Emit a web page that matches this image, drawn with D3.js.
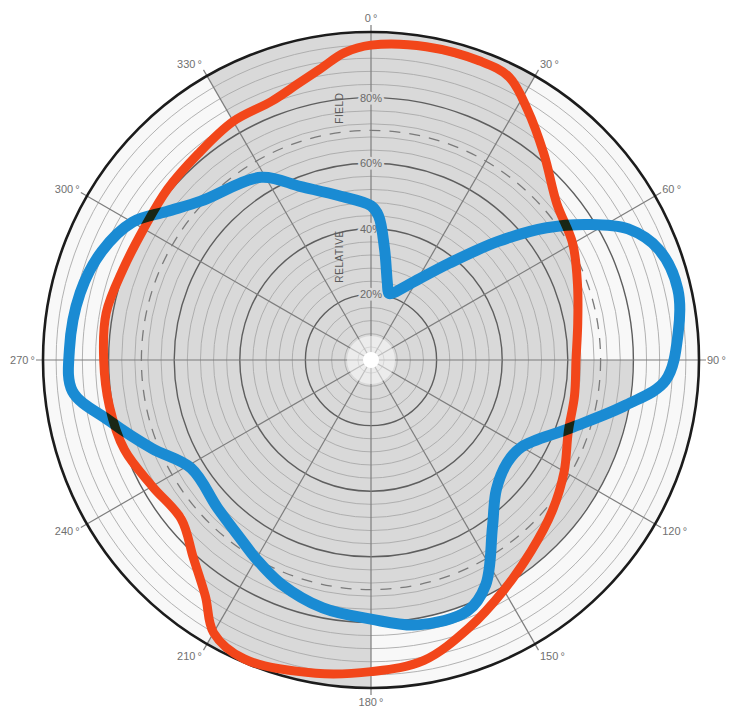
<!DOCTYPE html>
<html>
<head>
<meta charset="utf-8">
<script src="https://cdn.jsdelivr.net/npm/d3@7"></script>
<style>
  html, body { margin: 0; padding: 0; background: #fff; }
  svg { display: block; }
  .trace { fill: none; stroke-linejoin: round; stroke-linecap: round; }
</style>
</head>
<body>
<div id="chart"></div>
<script>
// Angle ticks (degrees, clockwise from top) and radial ticks (% relative field)
const angleTicks = [0, 30, 60, 90, 120, 150, 180, 210, 240, 270, 300, 330];
const percentLabels = [20, 40, 60, 80];
const gridSteps = d3.range(4, 101, 4);
const halfPower = 70;

// Blue pattern: angle (deg) / relative field (%)
const blueAngles = [0, 3, 7, 12, 15, 18, 27, 39, 47, 53, 58, 63, 69, 77, 85, 94, 100, 109, 120, 127, 136, 144, 153, 159, 170, 180, 191, 202, 210, 216, 226, 239, 248, 257, 264, 272, 283, 292, 300, 306, 313, 329, 338, 349];
const blueValues = [47, 44, 34, 24, 21, 21.5, 26, 38, 53, 67, 78, 88, 94, 96, 94, 90, 79, 64, 53, 52, 55, 63, 77, 82, 82, 79, 77, 73.5, 70, 67.5, 65, 64, 72, 82, 91.5, 92, 91, 88.5, 84, 77, 71, 65, 57, 51];

// Red pattern
const redAngles = [0, 10, 20, 26, 32, 40, 50, 60, 70, 80, 90, 100, 110, 120, 130, 140, 150, 160, 170, 180, 190, 203, 210, 215, 222, 230, 240, 250, 260, 270, 280, 290, 300, 310, 320, 330, 339, 345, 350, 355];
const redValues = [96, 97, 97, 96, 90, 82, 74, 71, 67, 64, 62.5, 63, 64, 68, 72, 76, 81, 87, 93, 95, 97, 99, 96, 88, 81, 75.5, 77, 80, 81, 81.5, 82, 80.5, 80, 81, 82, 84, 84.5, 87, 90, 94];

// Grey shaded reference area
const shadeAngles = [330, 340, 350, 360, 370, 380, 390, 390, 400, 410, 420, 430, 440, 450, 450, 460, 470, 480, 490, 500, 510, 520, 530, 540, 540, 550, 560, 570, 570, 575, 582, 590, 600, 610, 620, 630, 640, 650, 660, 670, 680, 690];
const shadeValues = [100, 100, 100, 100, 100, 100, 100, 91, 81, 73, 70, 66, 64, 63, 80, 80, 80, 80, 80, 80, 80, 80, 80, 80, 100, 100, 100, 100, 95, 87, 80, 74, 76, 79, 80, 80.5, 81, 79.5, 79, 80, 81, 83];

const width = 729, height = 713;
const cx = 371, cy = 360;
const outerR = 328;

const svg = d3.select('#chart').append('svg')
    .attr('width', width)
    .attr('height', height);

const g = svg.append('g').attr('transform', `translate(${cx},${cy})`);

const rScale = d3.scaleLinear().domain([0, 100]).range([0, outerR]);
const aScale = d3.scaleLinear().domain([0, 360]).range([0, 2 * Math.PI]);

// Plot face
g.append('circle')
    .attr('r', rScale(100))
    .attr('fill', '#f8f8f8');

// Shaded area
const shadeLine = d3.lineRadial()
    .angle(d => aScale(d[0]))
    .radius(d => rScale(d[1]))
    .curve(d3.curveLinearClosed);

g.append('path')
    .attr('d', shadeLine(shadeAngles.map((a, i) => [a, shadeValues[i]])))
    .attr('fill', '#d9d9d9');

// Grid circles
g.selectAll('circle.grid')
    .data(gridSteps.filter(d => d < 100))
    .enter()
    .append('circle')
    .attr('class', 'grid')
    .attr('r', d => rScale(d))
    .attr('fill', 'none')
    .attr('stroke', d => d % 20 === 0 ? '#5e5e5e' : '#a9a9a9')
    .attr('stroke-width', d => d % 20 === 0 ? 1.4 : 0.9);

// Half power circle (dashed)
g.append('circle')
    .attr('r', rScale(halfPower))
    .attr('fill', 'none')
    .attr('stroke', '#7a7a7a')
    .attr('stroke-width', 1.3)
    .attr('stroke-dasharray', '11,9');

// Spokes
g.selectAll('line.spoke')
    .data(angleTicks)
    .enter()
    .append('line')
    .attr('class', 'spoke')
    .attr('x1', 0)
    .attr('y1', 0)
    .attr('x2', d => Math.sin(aScale(d)) * (rScale(100) + 7))
    .attr('y2', d => -Math.cos(aScale(d)) * (rScale(100) + 7))
    .attr('stroke', '#7d7d7d')
    .attr('stroke-width', 1.2);

// Washed-out centre
g.append('circle').attr('r', 24).attr('fill', '#fff').attr('opacity', 0.5);
g.append('circle').attr('r', 8).attr('fill', '#fff');

// Outer ring
g.append('circle')
    .attr('r', rScale(100))
    .attr('fill', 'none')
    .attr('stroke', '#1c1c1c')
    .attr('stroke-width', 2.6);

// Angle labels
g.selectAll('text.angle')
    .data(angleTicks)
    .enter()
    .append('text')
    .attr('class', 'angle')
    .attr('x', d => {
        const s = Math.sin(aScale(d));
        return s * (rScale(100) + 6) + (Math.abs(s) < 0.01 ? 0 : (s > 0 ? 2 : -2));
    })
    .attr('y', d => -Math.cos(aScale(d)) * (rScale(100) + 2) - Math.cos(aScale(d)) * 12)
    .attr('dominant-baseline', 'central')
    .attr('text-anchor', d => {
        const s = Math.sin(aScale(d));
        if (Math.abs(s) < 0.01) return 'middle';
        return s > 0 ? 'start' : 'end';
    })
    .style('font-family', '"Liberation Sans", Arial, sans-serif')
    .style('font-size', '11px')
    .style('fill', '#707070')
    .text(d => `${d}\u2009°`);

// Percent labels on the 0° spoke
g.selectAll('text.pct')
    .data(percentLabels)
    .enter()
    .append('text')
    .attr('class', 'pct')
    .attr('x', 0)
    .attr('y', d => -rScale(d))
    .attr('dominant-baseline', 'central')
    .attr('text-anchor', 'middle')
    .style('font-family', '"Liberation Sans", Arial, sans-serif')
    .style('font-size', '11px')
    .style('fill', '#6a6a6a')
    .style('stroke', '#d9d9d9')
    .style('stroke-width', '5px')
    .style('paint-order', 'stroke')
    .text(d => `${d}%`);

// Axis title
[['FIELD', -rScale(78) + 4], ['RELATIVE', -rScale(34) + 8]].forEach(([t, y]) => {
    g.append('text')
        .attr('transform', `translate(-32,${y}) rotate(-90)`)
        .attr('text-anchor', 'middle')
        .attr('dominant-baseline', 'central')
        .style('font-family', '"Liberation Sans", Arial, sans-serif')
        .style('font-size', '10px')
        .style('letter-spacing', '0.6px')
        .style('fill', '#5a5a5a')
        .text(t);
});

// Traces (isolated group so only the crossings darken)
const trace = d3.lineRadial()
    .angle(d => aScale(d[0]))
    .radius(d => rScale(d[1]))
    .curve(d3.curveCatmullRomClosed.alpha(0.5));

const traces = g.append('g').style('isolation', 'isolate');

traces.append('path')
    .attr('class', 'trace')
    .attr('d', trace(blueAngles.map((a, i) => [a, blueValues[i]])))
    .attr('stroke', '#1a8bd3')
    .attr('stroke-width', 11);

traces.append('path')
    .attr('class', 'trace')
    .attr('d', trace(redAngles.map((a, i) => [a, redValues[i]])))
    .attr('stroke', '#f2461a')
    .attr('stroke-width', 9)
    .style('mix-blend-mode', 'multiply');
</script>
</body>
</html>
